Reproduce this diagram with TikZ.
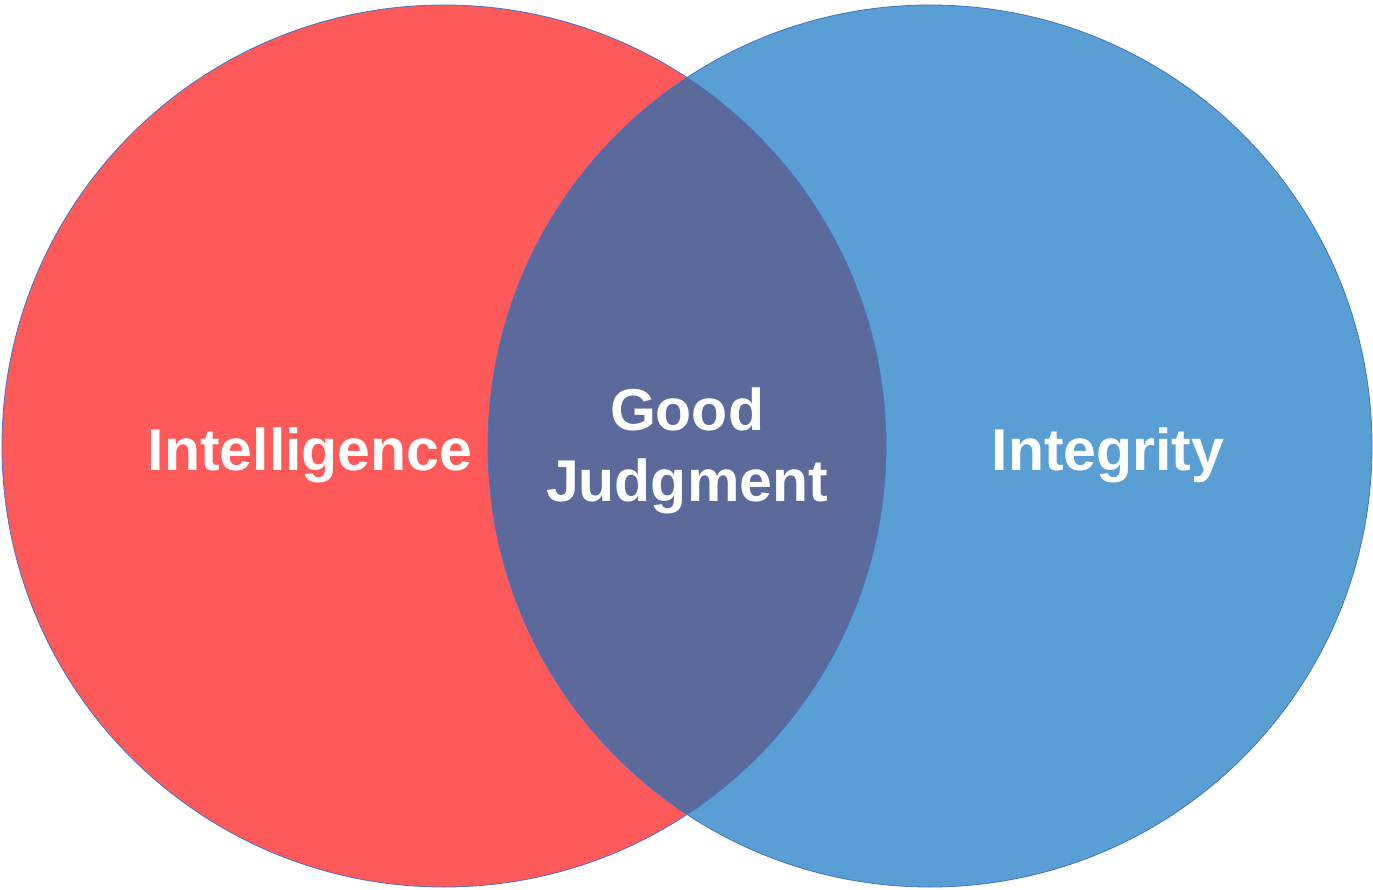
\documentclass[tikz,border=0pt]{standalone}
\usepackage{fontspec}
\setmainfont{Liberation Sans}
\definecolor{redset}{HTML}{FF5A5A}
\definecolor{blueset}{HTML}{5A9FD4}
\definecolor{bothset}{HTML}{5B699B}
\definecolor{rimline}{HTML}{4472C4}
\tikzset{
  setlabel/.style={text=white, font=\fontsize{59}{70}\selectfont\bfseries, align=center, inner sep=0pt},
  rim/.style={draw=rimline, line width=0.8pt}
}
\begin{document}
\begin{tikzpicture}[x=1pt, y=-1pt]
        \useasboundingbox (0,0) rectangle (1373,889);
        \def\rx{442}
        \def\ry{441}
        \coordinate (L) at (444,446);
        \coordinate (R) at (930,446);
        \fill[redset] (L) ellipse [x radius=\rx, y radius=\ry];
        \fill[blueset] (R) ellipse [x radius=\rx, y radius=\ry];
        \begin{scope}
          \clip (L) ellipse [x radius=\rx, y radius=\ry];
          \fill[bothset] (R) ellipse [x radius=\rx, y radius=\ry];
        \end{scope}
        \path[rim] (L) ellipse [x radius=\rx, y radius=\ry];
        \path[rim] (R) ellipse [x radius=\rx, y radius=\ry];
        \node[setlabel, anchor=base] (intel) at (310,470) {Intelligence};
        \node[setlabel, anchor=base] (integ) at (1108,470) {Integrity};
        \node[setlabel, anchor=base] (good) at (687,430) {Good};
        \node[setlabel, anchor=base] (judg) at (687,501) {Judgment};
      \end{tikzpicture}
\end{document}
